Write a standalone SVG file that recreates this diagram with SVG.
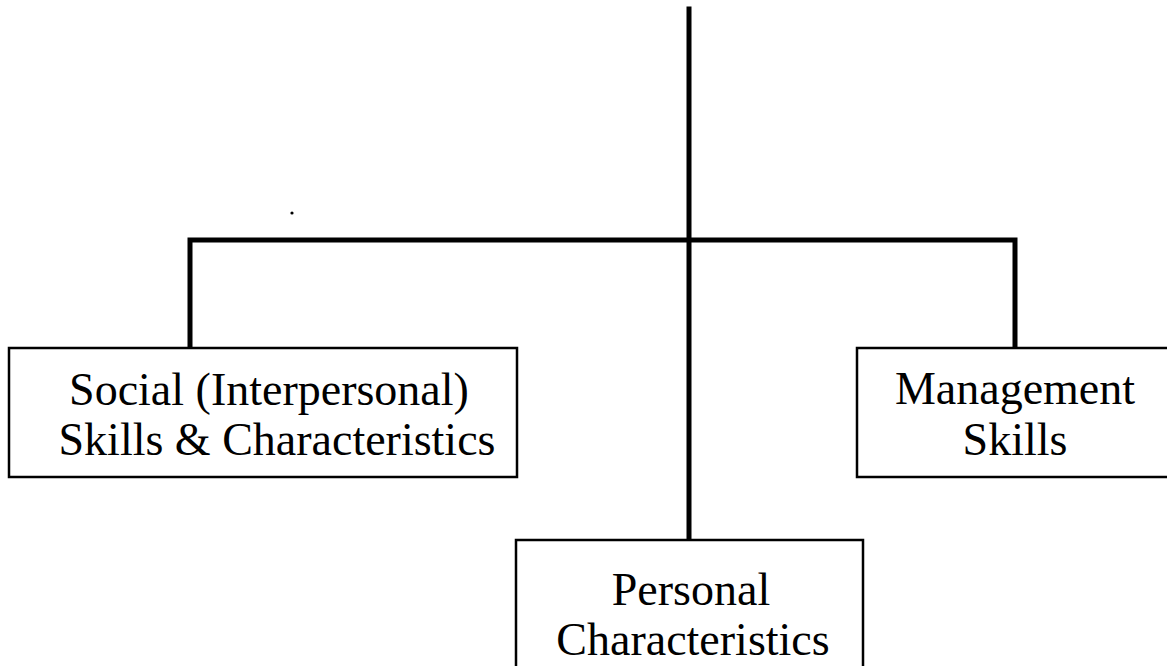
<svg xmlns="http://www.w3.org/2000/svg" width="1167" height="666" viewBox="0 0 1167 666">
  <style>
    .box { fill: #ffffff; stroke: #000000; stroke-width: 2.5; }
    .link { fill: none; stroke: #000000; stroke-width: 5; stroke-linecap: square; stroke-linejoin: miter; }
    .label { font-family: "Liberation Serif", "Times New Roman", serif; font-size: 46px; fill: #000000; text-anchor: middle; }
  </style>
  <rect width="1167" height="666" fill="#ffffff"/>

  <!-- connectors: trunk, cross bar and the two side drops -->
  <g id="connectors">
    <line class="link" x1="689" y1="9" x2="689" y2="539"/>
    <polyline class="link" points="190,348 190,240 1015,240 1015,348"/>
  </g>

  <g id="node-social">
    <rect class="box" x="9" y="348" width="508" height="129"/>
    <text class="label" x="269" y="405">Social (Interpersonal)</text>
    <text class="label" x="277" y="455">Skills &amp; Characteristics</text>
  </g>

  <g id="node-management">
    <rect class="box" x="857" y="348" width="320" height="129"/>
    <text class="label" x="1015" y="404">Management</text>
    <text class="label" x="1015" y="455">Skills</text>
  </g>

  <g id="node-personal">
    <rect class="box" x="516" y="540" width="347" height="140"/>
    <text class="label" x="691" y="605">Personal</text>
    <text class="label" x="693" y="655">Characteristics</text>
  </g>

  <circle cx="292" cy="213" r="1.6" fill="#000000"/>
</svg>
